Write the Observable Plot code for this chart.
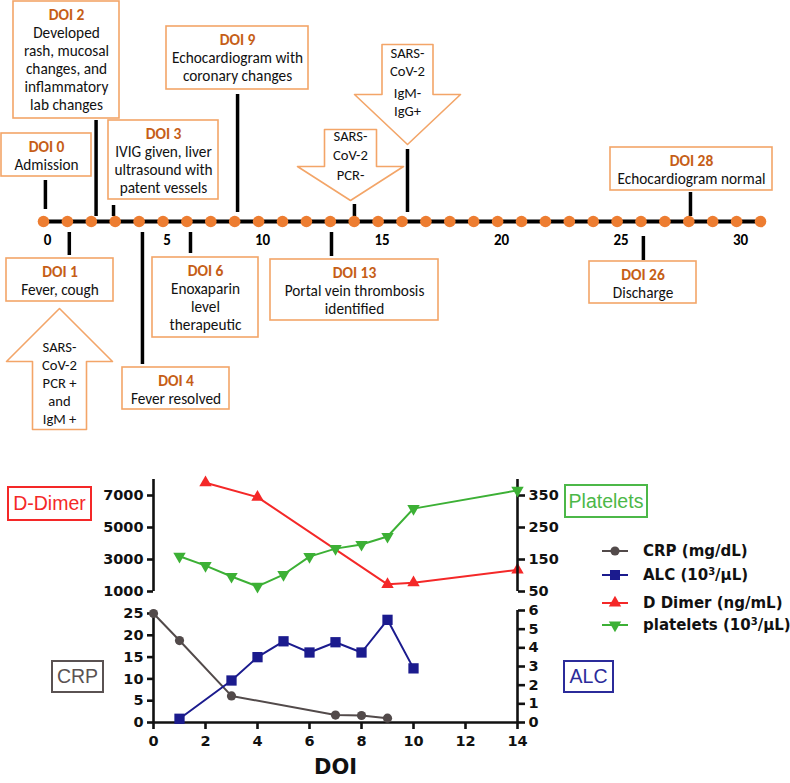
<!DOCTYPE html>
<html><head><meta charset="utf-8">
<script src="https://cdn.jsdelivr.net/npm/d3@7"></script>
<script src="https://cdn.jsdelivr.net/npm/@observablehq/plot@0.6"></script>
<style>
body{margin:0;background:#fff;}
#root{position:relative;width:790px;height:783px;overflow:hidden;background:#fff;}
.lab{position:absolute;box-sizing:border-box;border:2px solid;font-family:"Liberation Sans",Arial,sans-serif;font-size:19.5px;display:flex;align-items:center;justify-content:center;background:#fff;}
</style></head><body><div id="root"></div><script>
// ---------------- DATA ----------------
// timeline dots (one per day on the drawn timeline)
const timelineDots = d3.range(0, 31);
const dayTickLabels = ["0","5","10","15","20","25","30"];
const dayTickPos = [0, 5, 9, 14, 19, 24, 29];          // dot under each label, as drawn

const eventDays = [0, 1, 2, 3, 4, 6, 9, 13, 26, 28];
const eventPos = [0.08, 1.08, 2.2, 2.93, 4.14, 6.15, 8.12, 12.05, 25.1, 27.07]; // stem position on timeline
const eventTexts = [
  ["Admission"],
  ["Fever, cough"],
  ["Developed", "rash, mucosal", "changes, and", "inflammatory", "lab changes"],
  ["IVIG given, liver", "ultrasound with", "patent vessels"],
  ["Fever resolved"],
  ["Enoxaparin", "level", "therapeutic"],
  ["Echocardiogram with", "coronary changes"],
  ["Portal vein thrombosis", "identified"],
  ["Discharge"],
  ["Echocardiogram normal"]
];
const testDays = [1, 14, 16];
const testPos = [null, 13.01, 15.23];
const testTexts = [
  ["SARS-", "CoV-2", "PCR +", "and", "IgM +"],
  ["SARS-", "CoV-2", "PCR-"],
  ["SARS-", "CoV-2", "IgM-", "IgG+"]
];

// lab values
const crpDays = [0, 1, 3, 7, 8, 9];
const crpValues = [25, 18.8, 6.1, 1.7, 1.6, 1.0];
const alcDays = [1, 3, 4, 5, 6, 7, 8, 9, 10];
const alcValues = [0.2, 2.25, 3.5, 4.35, 3.75, 4.3, 3.75, 5.5, 2.9];
const ddDays = [2, 4, 9, 10, 14];
const ddValues = [7800, 6900, 1450, 1550, 2350];
const pltDays = [1, 2, 3, 4, 5, 6, 7, 8, 9, 10, 14];
const pltValues = [160, 131, 97, 66, 103, 159, 184, 197, 222, 309, 366];

const legendLabels = [["CRP (mg/dL)"], ["ALC (10", "3", "/μL)"], ["D Dimer (ng/mL)"], ["platelets (10", "3", "/μL)"]];
const panelLabels = ["D-Dimer", "Platelets", "CRP", "ALC"];

// ---------------- LAYOUT ----------------
const LINE_Y = 221;
const boxLayout = [ // [x0,y0,x1,y1] px
  [1,133,91,176],[6,258,113,301],[13,1,119,118],[108,120,218,199],[122,367,229,409],
  [152,257,258,337],[166,26,308,89],[270,259,438,320],[589,261,696,303],[610,147,772,190]
];
const stemLayout = [[180,209],[232,255],[120,216],[205,216],[232,364],[232,253],[94,212],[232,256],[236,260],[192,216]];
const testStemLayout = [null, [204,216], [149,212]];
const arrowLayout = [
  {cx:59, dir:"up", a:308, b:361, c:429, head:53, shaft:27, lines:[347,365,383,401,419]},
  {cx:350, dir:"down", a:129, b:166, c:200, head:53, shaft:26, lines:[136,155,175]},
  {cx:407, dir:"down", a:44, b:94, c:144, head:53, shaft:25.5, lines:[53,71,93,111]}
];

const ORANGE = "#ED7D31", BOX = "#F3A568", HEAD = "#C65E17";
const TFONT = "Carlito, Lato, sans-serif";
const C_CRP = "#524a4a", C_ALC = "#1b1b8e", C_DD = "#f42828", C_PLT = "#3cb035";

const root = document.getElementById("root");
function place(node, top) {
  node.style.position = "absolute"; node.style.left = "0px"; node.style.top = top + "px";
  root.appendChild(node);
}

// ---------------- ANNOTATION LAYER (boxes, arrows, text) ----------------
const rects = boxLayout.map(b => ({x1:b[0], y1:b[1], x2:b[2], y2:b[3]}));
const arrowPts = [];
arrowLayout.forEach((A, k) => {
  const {cx, a, b, c, head, shaft} = A;
  const pts = A.dir === "up"
    ? [[cx,a],[cx+head,b],[cx+shaft,b],[cx+shaft,c],[cx-shaft,c],[cx-shaft,b],[cx-head,b],[cx,a]]
    : [[cx-shaft,a],[cx+shaft,a],[cx+shaft,b],[cx+head,b],[cx,c],[cx-head,b],[cx-shaft,b],[cx-shaft,a]];
  pts.forEach(p => arrowPts.push({id:k, x:p[0], y:p[1]}));
});
const headers = [], bodyLines = [], arrowLines = [];
eventDays.forEach((d, i) => {
  const b = boxLayout[i], cx = (b[0] + b[2]) / 2;
  headers.push({x: cx, y: b[1] + 13.5, t: "DOI " + d});
  eventTexts[i].forEach((t, j) => bodyLines.push({x: cx, y: b[1] + 13.5 + 18 * (j + 1), t}));
});
testTexts.forEach((lines, i) => {
  lines.forEach((t, j) => arrowLines.push({x: arrowLayout[i].cx, y: arrowLayout[i].lines[j], t}));
});

const annot = Plot.plot({
  width: 790, height: 440, margin: 0,
  x: {domain: [0, 790], range: [0, 790], axis: null},
  y: {domain: [0, 440], range: [0, 440], axis: null},
  style: {background: "transparent"},
  marks: [
    Plot.line(arrowPts, {x: "x", y: "y", z: "id", fill: "white", stroke: BOX, strokeWidth: 1.6, curve: "linear-closed"}),
    Plot.rect(rects, {x1: "x1", x2: "x2", y1: "y1", y2: "y2", fill: "white", stroke: BOX, strokeWidth: 1.6}),
    Plot.text(headers, {x: "x", y: "y", text: "t", fill: HEAD, fontWeight: "bold", fontSize: 15.5, fontFamily: TFONT}),
    Plot.text(bodyLines, {x: "x", y: "y", text: "t", fill: "#111", fontSize: 15.3, fontFamily: TFONT}),
    Plot.text(arrowLines, {x: "x", y: "y", text: "t", fill: "#111", fontSize: 14.6, fontFamily: TFONT})
  ]
});
place(annot, 0);

// ---------------- TIMELINE LAYER ----------------
const stemRows = [];
eventDays.forEach((d, i) => stemRows.push({pos: eventPos[i], y1: stemLayout[i][0], y2: stemLayout[i][1]}));
testDays.forEach((d, i) => { if (testPos[i] != null) stemRows.push({pos: testPos[i], y1: testStemLayout[i][0], y2: testStemLayout[i][1]}); });

const timeline = Plot.plot({
  width: 790, height: 440, margin: 0,
  x: {domain: [0, 30], range: [43, 760], axis: null},
  y: {domain: [0, 440], range: [0, 440], axis: null},
  style: {background: "transparent"},
  marks: [
    Plot.ruleX(stemRows, {x: "pos", y1: "y1", y2: "y2", stroke: "#000", strokeWidth: 3.5}),
    Plot.ruleY([LINE_Y], {x1: 0, x2: 30, stroke: "#000", strokeWidth: 4}),
    Plot.dot(timelineDots, {x: d => d, y: () => LINE_Y, r: 5.8, fill: ORANGE}),
    Plot.text(dayTickLabels, {x: (d, i) => dayTickPos[i], y: () => 240, text: d => d, dx: 4, fontWeight: "bold", fontSize: 15, fontFamily: TFONT, fill: "#000"})
  ]
});
place(timeline, 0);

// ---------------- LAB PANELS ----------------
const PTOP = 460, PH = 323;
const baseStyle = {fontFamily: "DejaVu Sans", fontWeight: "bold", fontSize: "14.5px", color: "#111", background: "transparent", overflow: "visible"};
const rowsOf = (xs, ys) => xs.map((x, i) => ({x, y: ys[i]}));
const fmt = d => String(d);
function panel(opts) {
  return Plot.plot({
    width: 790, height: PH, marginLeft: 153, marginRight: 273, marginTop: opts.mTop, marginBottom: opts.mBottom,
    x: {domain: [0, 14], axis: null},
    y: {domain: opts.yDomain, axis: null},
    style: baseStyle,
    marks: opts.marks
  });
}
const AX = {stroke: "#111", strokeWidth: 2.6};

// D-dimer (top, left axis)
place(panel({
  yDomain: [1000, 8000], mTop: 19, mBottom: PH - 131,
  marks: [
    Plot.ruleX([0], {y1: 1000, y2: 8000, ...AX}),
    Plot.axisY({anchor: "left", ticks: [1000, 3000, 5000, 7000], tickSize: 6, tickPadding: 4, tickFormat: fmt, label: null, ...AX}),
    Plot.line(rowsOf(ddDays, ddValues), {x: "x", y: "y", stroke: C_DD, strokeWidth: 2}),
    Plot.dot(rowsOf(ddDays, ddValues), {x: "x", y: "y", symbol: "triangle", r: 4.6, fill: C_DD})
  ]
}), PTOP);

// platelets (top, right axis)
place(panel({
  yDomain: [50, 400], mTop: 19, mBottom: PH - 131,
  marks: [
    Plot.ruleX([14], {y1: 50, y2: 400, ...AX}),
    Plot.axisY({anchor: "right", ticks: [50, 150, 250, 350], tickSize: 7, tickPadding: 4, tickFormat: fmt, label: null, ...AX}),
    Plot.line(rowsOf(pltDays, pltValues), {x: "x", y: "y", stroke: C_PLT, strokeWidth: 2}),
    Plot.dot(rowsOf(pltDays, pltValues), {x: "x", y: "y", symbol: "triangle", rotate: 180, r: 4.6, fill: C_PLT})
  ]
}), PTOP);

// CRP (bottom, left axis + x axis)
const crpPanel = Plot.plot({
  width: 790, height: PH, marginLeft: 153, marginRight: 273, marginTop: 153, marginBottom: PH - 262,
  x: {domain: [0, 14]},
  y: {domain: [0, 25], axis: null},
  style: baseStyle,
  marks: [
    Plot.ruleX([0], {y1: 0, y2: 25.6, ...AX}),
    Plot.ruleY([0], {x1: 0, x2: 14, ...AX}),
    Plot.axisY({anchor: "left", ticks: [0, 5, 10, 15, 20, 25], tickSize: 6, tickPadding: 4, tickFormat: fmt, label: null, ...AX}),
    Plot.axisX({anchor: "bottom", ticks: [0, 2, 4, 6, 8, 10, 12, 14], tickSize: 7, tickPadding: 6, tickFormat: fmt, label: null, ...AX}),
    Plot.text(["DOI"], {frameAnchor: "bottom", dy: 51, fontSize: 21, fontWeight: "bold", fill: "#111"}),
    Plot.line(rowsOf(crpDays, crpValues), {x: "x", y: "y", stroke: C_CRP, strokeWidth: 2}),
    Plot.dot(rowsOf(crpDays, crpValues), {x: "x", y: "y", symbol: "circle", r: 4.6, fill: C_CRP})
  ]
});
place(crpPanel, PTOP);

// ALC (bottom, right axis)
place(panel({
  yDomain: [0, 6], mTop: 150, mBottom: PH - 262,
  marks: [
    Plot.ruleX([14], {y1: 0, y2: 6, ...AX}),
    Plot.axisY({anchor: "right", ticks: [0, 1, 2, 3, 4, 5, 6], tickSize: 7, tickPadding: 4, tickFormat: fmt, label: null, ...AX}),
    Plot.line(rowsOf(alcDays, alcValues), {x: "x", y: "y", stroke: C_ALC, strokeWidth: 2}),
    Plot.dot(rowsOf(alcDays, alcValues), {x: "x", y: "y", symbol: "square", r: 5.8, fill: C_ALC})
  ]
}), PTOP);

// ---------------- PANEL LABEL BOXES ----------------
const labelBoxes = [
  {l: 7, t: 486, w: 85, h: 35, c: C_DD},
  {l: 564, t: 484, w: 84, h: 34, c: "#4cb848"},
  {l: 51, t: 660, w: 53, h: 33, c: "#5a5252"},
  {l: 563, t: 660, w: 51, h: 33, c: "#2b2b9a"}
];
panelLabels.forEach((txt, i) => {
  const b = labelBoxes[i];
  const div = document.createElement("div");
  div.className = "lab";
  Object.assign(div.style, {left: b.l + "px", top: b.t + "px", width: b.w + "px", height: b.h + "px", borderColor: b.c, color: b.c});
  div.textContent = txt;
  root.appendChild(div);
});

// ---------------- LEGEND ----------------
const legendY = [551, 575, 603, 625];
const legendCol = [C_CRP, C_ALC, C_DD, C_PLT];
const leg = d3.create("svg").attr("width", 790).attr("height", 783)
  .style("position", "absolute").style("left", "0px").style("top", "0px");
legendLabels.forEach((parts, i) => {
  const y = legendY[i], c = legendCol[i];
  leg.append("line").attr("x1", 602).attr("x2", 628).attr("y1", y).attr("y2", y).attr("stroke", c).attr("stroke-width", 2);
  const sym = [d3.symbolCircle, d3.symbolSquare, d3.symbolTriangle, d3.symbolTriangle][i];
  const size = [66, 100, 66, 66][i];
  leg.append("path").attr("d", d3.symbol(sym, size)()).attr("fill", c)
    .attr("transform", `translate(615,${y})` + (i === 3 ? " rotate(180)" : ""));
  const t = leg.append("text").attr("x", 643).attr("y", y).attr("dy", "0.36em")
    .attr("font-family", "DejaVu Sans").attr("font-weight", "bold").attr("font-size", 15).attr("fill", "#111");
  parts.forEach((p, j) => {
    const ts = t.append("tspan").text(p);
    if (j === 1) ts.attr("font-size", 10).attr("dy", "-0.55em");
    if (j === 2) ts.attr("dy", "0.37em");
  });
});
root.appendChild(leg.node());
</script></body></html>
